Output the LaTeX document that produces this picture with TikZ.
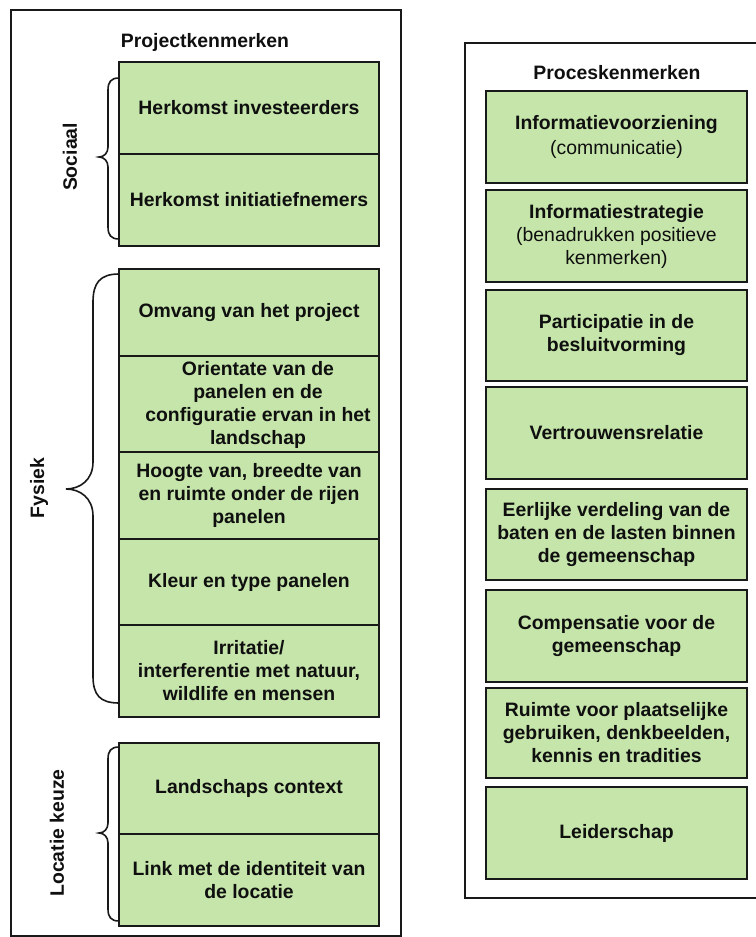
\documentclass[tikz,border=0pt]{standalone}
\usepackage{fontspec}
\setmainfont{Liberation Sans}
\definecolor{boxg}{RGB}{197,229,170}
\definecolor{linec}{RGB}{25,25,25}
\definecolor{textc}{RGB}{15,15,15}
\newcommand{\boxfont}{\fontsize{19.4}{23}\selectfont\bfseries}
\tikzset{
  lbox/.style={draw=linec, line width=1.6pt, fill=boxg, minimum width=260pt, inner sep=0pt, align=center, font=\boxfont, text=textc},
  rbox/.style={draw=linec, line width=2.4pt, fill=boxg, minimum width=261pt, inner sep=0pt, align=center, font=\boxfont, text=textc},
  frame/.style={draw=linec, line width=2pt},
  bracepath/.style={draw=linec, line width=1.6pt},
  grp/.style={rotate=90, font=\boxfont, text=textc, inner sep=0pt},
  ttl/.style={font=\boxfont, text=textc, inner sep=0pt},
}
\begin{document}
\begin{tikzpicture}[x=1pt,y=-1pt]
\useasboundingbox (0,0) rectangle (755,937);
% outer frames
\draw[frame] (11,10) rectangle (401,936);
\draw[frame, line width=1.6pt] (465,43) rectangle (760,898);
% titles
\node[ttl] (pt) at (205,42) {Projectkenmerken};
\node[ttl] (pc) at (617,73) {Proceskenmerken};
% left boxes
\node[lbox, minimum height=92pt] (a1) at (249,108) {Herkomst investeerders};
\node[lbox, minimum height=92pt] (a2) at (249,200) {Herkomst initiatiefnemers};
\node[lbox, minimum height=87pt] (f1) at (249,312.5) {Omvang van het project};
\node[lbox, minimum height=96pt] (f2) at (249,404) {\rule{0pt}{17pt}\hspace*{18pt}Orientate van de\\\hspace*{18pt}panelen en de\\\hspace*{18pt}configuratie ervan in het\\\hspace*{18pt}landschap};
\node[lbox, minimum height=87pt] (f3) at (249,495.5) {Hoogte van, breedte van\\en ruimte onder de rijen\\panelen};
\node[lbox, minimum height=86pt] (f4) at (249,582) {Kleur en type panelen};
\node[lbox, minimum height=92pt] (f5) at (249,671) {Irritatie/\\interferentie met natuur,\\wildlife en mensen};
\node[lbox, minimum height=91pt] (l1) at (249,788.5) {Landschaps context};
\node[lbox, minimum height=92pt] (l2) at (249,880) {Link met de identiteit van\\de locatie};
% right boxes
\node[rbox, minimum height=92pt] (r1) at (616.5,137) {Informatievoorziening\\[2pt]{\mdseries (communicatie)}};
\node[rbox, minimum height=92pt] (r2) at (616.5,236) {Informatiestrategie\\{\mdseries (benadrukken positieve}\\{\mdseries kenmerken)}};
\node[rbox, minimum height=91pt] (r3) at (616.5,335.5) {Participatie in de\\besluitvorming};
\node[rbox, minimum height=92pt] (r4) at (616.5,433) {Vertrouwensrelatie};
\node[rbox, minimum height=91pt] (r5) at (616.5,534.5) {Eerlijke verdeling van de\\baten en de lasten binnen\\de gemeenschap};
\node[rbox, minimum height=92pt] (r6) at (616.5,636) {Compensatie voor de\\gemeenschap};
\node[rbox, minimum height=90pt] (r7) at (616.5,733) {Ruimte voor plaatselijke\\gebruiken, denkbeelden,\\kennis en tradities};
\node[rbox, minimum height=92pt] (r8) at (616.5,833) {Leiderschap};
% braces
\draw[bracepath] (119,78) .. controls (111,78) and (108,82) .. (108,90) -- (108,147)
  .. controls (108,153) and (104,157) .. (99,157) .. controls (104,157) and (108,161) .. (108,167)
  -- (108,227) .. controls (108,235) and (111,239) .. (119,239);
\draw[bracepath] (119,274) .. controls (100,274) and (93,283) .. (93,302) -- (93,462)
  .. controls (93,480) and (80,489) .. (66,489) .. controls (80,489) and (93,498) .. (93,516)
  -- (93,676) .. controls (93,695) and (100,703) .. (119,703);
\draw[bracepath] (119,747) .. controls (111,747) and (108,751) .. (108,759) -- (108,823)
  .. controls (108,829) and (104,833) .. (99,833) .. controls (104,833) and (108,837) .. (108,843)
  -- (108,909) .. controls (108,917) and (111,921) .. (119,921);
% group labels
\node[grp] (gs) at (70,157) {Sociaal};
\node[grp] (gf) at (39,488) {Fysiek};
\node[grp] (gl) at (57,833) {Locatie keuze};
\end{tikzpicture}
\end{document}
